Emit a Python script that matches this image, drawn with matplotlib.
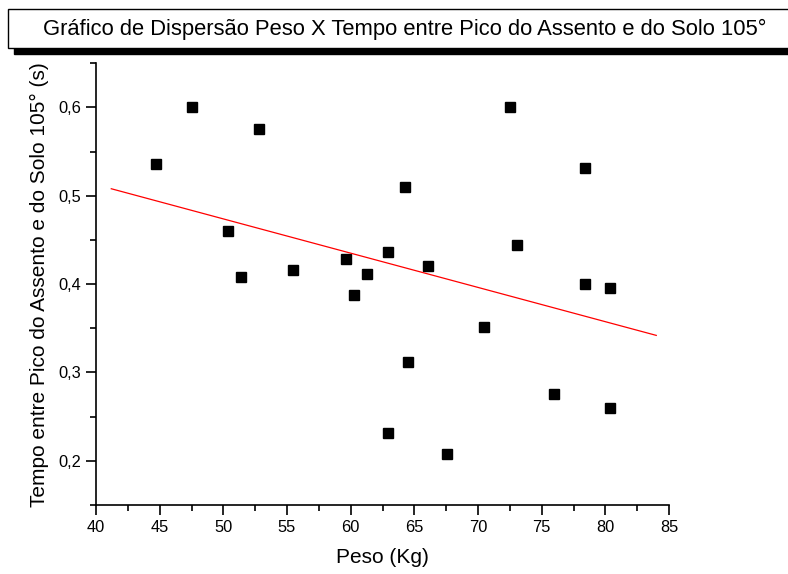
import matplotlib
matplotlib.use("Agg")
from matplotlib import pyplot as plt
from matplotlib.patches import Rectangle
from matplotlib.ticker import MultipleLocator, FuncFormatter

# Dados
peso = [44.7, 47.5, 52.8, 50.4, 51.4, 55.5, 59.6, 60.3, 61.3, 62.9, 62.9, 64.3,
        64.5, 66.1, 67.6, 70.5, 72.5, 73.1, 76.0, 78.4, 78.4, 80.4, 80.4]
tempo = [0.536, 0.600, 0.576, 0.460, 0.408, 0.416, 0.428, 0.388, 0.412, 0.436, 0.232, 0.510,
         0.312, 0.420, 0.208, 0.352, 0.600, 0.444, 0.276, 0.532, 0.400, 0.396, 0.260]
# reta de ajuste (extremos)
fit_x = [41.2, 84.0]
fit_y = [0.508, 0.342]

W, H = 788, 574
fig = plt.figure(figsize=(W / 100, H / 100), dpi=100)
plt.rcParams["font.family"] = ["Liberation Sans", "DejaVu Sans"]

# caixa do título com sombra
shadow = Rectangle((14 / W, 1 - 54 / H), 800 / W, 39 / H, transform=fig.transFigure,
                   facecolor="black", edgecolor="black", clip_on=False)
box = Rectangle((8 / W, 1 - 48 / H), 800 / W, 39 / H, transform=fig.transFigure,
                facecolor="white", edgecolor="black", linewidth=1.0, clip_on=False)
fig.patches.append(shadow)
fig.patches.append(box)
fig.text(405 / W, 1 - 29 / H, "Gráfico de Dispersão Peso X Tempo entre Pico do Assento e do Solo 105°",
         ha="center", va="center", fontsize=15.8)

ax = fig.add_axes([96 / W, 1 - 505 / H, (669 - 96) / W, (505 - 63.3) / H])
ax.plot(peso, tempo, "s", color="black", markersize=6.5, linestyle="none")
ax.plot(fit_x, fit_y, color="red", linewidth=0.9)

ax.set_xlim(40, 85)
ax.set_ylim(0.15, 0.65)
ax.xaxis.set_major_locator(MultipleLocator(5))
ax.xaxis.set_minor_locator(MultipleLocator(2.5))
ax.yaxis.set_major_locator(MultipleLocator(0.1))
ax.yaxis.set_minor_locator(MultipleLocator(0.05))
ax.yaxis.set_major_formatter(FuncFormatter(lambda v, p: "{:.1f}".format(v).replace(".", ",")))

for s in ["top", "right"]:
    ax.spines[s].set_visible(False)
for s in ["left", "bottom"]:
    ax.spines[s].set_linewidth(1.2)
ax.tick_params(which="major", length=7, width=1.2, labelsize=11.8, direction="out")
ax.tick_params(which="minor", length=4, width=1.2, direction="out")

ax.set_xlabel("Peso (Kg)", fontsize=15, labelpad=10)
ax.set_ylabel("Tempo entre Pico do Assento e do Solo 105° (s)", fontsize=15, labelpad=7)

fig.savefig("out.png", dpi=100)
